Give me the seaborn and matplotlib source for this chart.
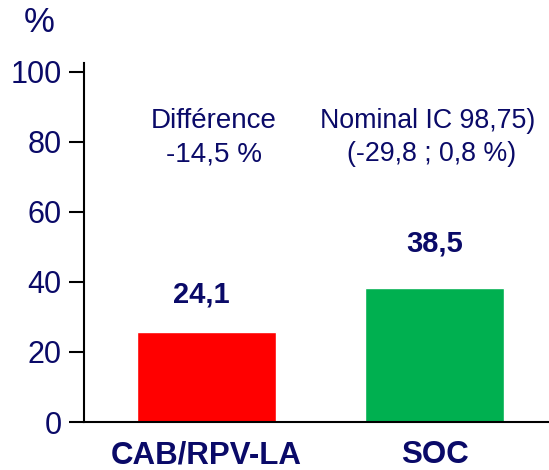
import matplotlib
matplotlib.use("Agg")
import matplotlib.pyplot as plt
import seaborn as sns
import pandas as pd

categories = ["CAB/RPV-LA", "SOC"]
bar_values = [25.7, 38.3]
value_labels = ["24,1", "38,5"]
bar_colors = ["#FF0000", "#00B050"]
y_ticks = [0, 20, 40, 60, 80, 100]
ann_left = ["Différence", "-14,5 %"]
ann_right = ["Nominal IC 98,75)", "(-29,8 ; 0,8 %)"]

navy = "#0A0A68"

sns.set_style("white")
plt.rcParams["font.family"] = ["Liberation Sans", "DejaVu Sans"]

df = pd.DataFrame({"cat": categories, "val": bar_values})

fig = plt.figure(figsize=(5.49, 4.70), dpi=100)
ax = fig.add_axes([84 / 549, 48 / 470, 1 - 84 / 549, (422 - 63) / 470])

sns.barplot(data=df, x="cat", y="val", hue="cat", palette=bar_colors,
            width=0.608, legend=False, ax=ax, saturation=1)

ax.set_xlim(-0.534, 1.5)
ax.set_ylim(0, 102.5)
ax.set_yticks(y_ticks)
ax.set_yticklabels([str(t) for t in y_ticks], fontsize=22, color=navy)
ax.set_xticks(range(len(categories)))
ax.set_xticklabels(categories, fontsize=22.5, fontweight="bold", color=navy)
ax.tick_params(axis="y", direction="out", length=11, width=1.5, pad=5,
               left=True, color="black")
ax.tick_params(axis="x", length=0, pad=13)
ax.set_xlabel("")
ax.set_ylabel("")

for s in ["top", "right"]:
    ax.spines[s].set_visible(False)
for s in ["left", "bottom"]:
    ax.spines[s].set_color("black")
    ax.spines[s].set_linewidth(1.5)

offsets = [8.5, 10.5]
for i, (v, lab) in enumerate(zip(bar_values, value_labels)):
    ax.text(i - 0.02 if i == 0 else i, v + offsets[i], lab, ha="center",
            va="baseline", fontsize=21, fontweight="bold", color=navy)

ax.text(0.035, 83.9, ann_left[0], ha="center", va="baseline", fontsize=20, color=navy)
ax.text(0.035, 74.5, ann_left[1], ha="center", va="baseline", fontsize=20, color=navy)
ax.text(0.97, 83.9, ann_right[0], ha="center", va="baseline", fontsize=19.3, color=navy)
ax.text(0.985, 74.5, ann_right[1], ha="center", va="baseline", fontsize=19.3, color=navy)

fig.text(39.5 / 549, 1 - 22 / 470, "%", ha="center", va="center", fontsize=25, color=navy)

fig.savefig("out.png", dpi=100)
